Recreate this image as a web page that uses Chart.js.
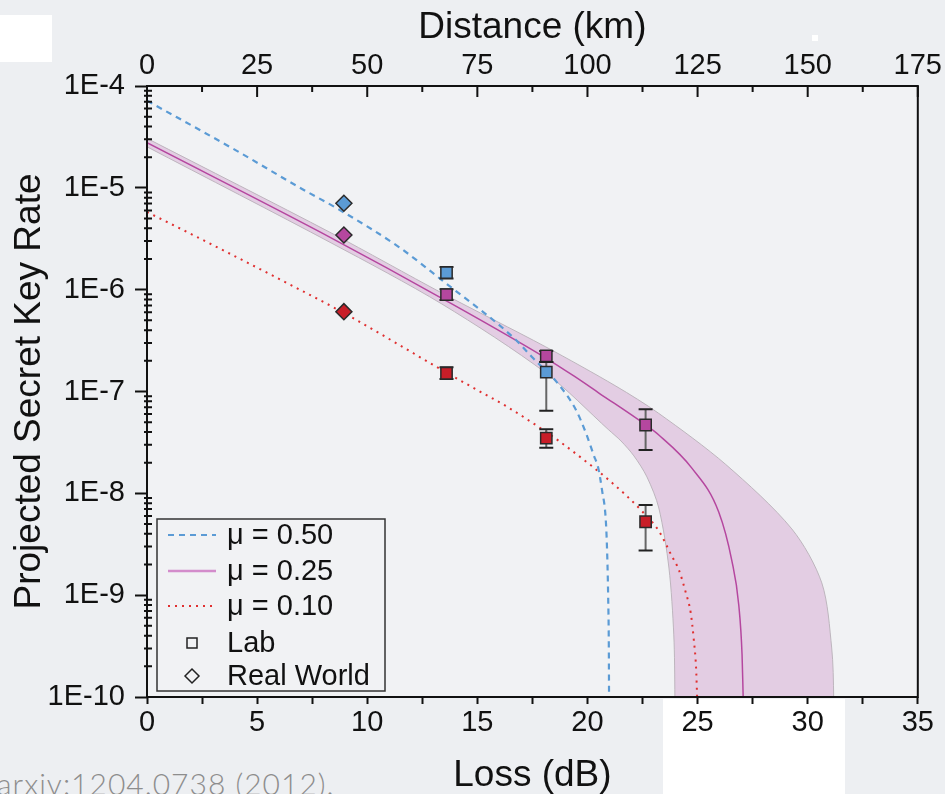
<!DOCTYPE html>
<html>
<head>
<meta charset="utf-8">
<title>Projected Secret Key Rate</title>
<script src="https://cdn.jsdelivr.net/npm/chart.js@4.4.0/dist/chart.umd.min.js"></script>
<style>
  body { margin: 0; width: 945px; height: 794px; overflow: hidden; position: relative; background: #edeff2; }
  #wrap { position: absolute; left: 0; top: 0; width: 945px; height: 794px; }
  .blanco { position: absolute; background: #fff; }
  #cita { position: absolute; left: -3px; top: 765px; font-family: Lato, "Open Sans", sans-serif; font-weight: 300; font-size: 30px; letter-spacing: 1px; color: #8d8d8d; white-space: nowrap; }
</style>
</head>
<body>
<div class="blanco" style="left:0;top:15px;width:52px;height:47px"></div>
<div class="blanco" style="left:663px;top:699px;width:182px;height:95px"></div>
<div class="blanco" style="left:812px;top:35px;width:6px;height:6px"></div>
<div id="cita">arxiv:1204.0738 (2012).</div>
<div id="wrap"><canvas id="grafica"></canvas></div>
<script>
// curvas teoricas (perdida en dB, tasa)
const lossMu050 = [0, 4, 7.04, 8.72, 11.44, 13.39, 16.66, 17.48, 18.71, 19.48, 19.93, 20.3, 20.48, 20.66, 20.84, 20.9, 20.94, 20.97, 20.98];
const rateMu050 = [7.18e-5, 2.36e-5, 9.75e-6, 6.12e-6, 2.62e-6, 1.24e-6, 3.35e-7, 2.18e-7, 1.16e-7, 6.58e-8, 3.91e-8, 2.32e-8, 1.81e-8, 1.08e-8, 5.12e-9, 2.37e-9, 9.6e-10, 3.1e-10, 1e-10];

const lossMu025 = [0, 8.4, 13.39, 18.11, 19.38, 20.52, 22.65, 23.24, 24.74, 25.96, 26.55, 26.87, 27.02, 27.07];
const rateMu025 = [2.77e-5, 3.19e-6, 8.22e-7, 2.13e-7, 1.42e-7, 9.66e-8, 4.69e-8, 3.74e-8, 1.77e-8, 6.56e-9, 2.21e-9, 8.0e-10, 2.58e-10, 1e-10];

const lossMu010 = [0, 2.27, 6.9, 8.94, 13.39, 14.84, 16.3, 17.79, 18.7, 20.2, 20.97, 21.74, 22.47, 23.24, 23.83, 24.15, 24.47, 24.69, 24.83, 24.93, 24.98];
const rateMu010 = [5.79e-6, 3.29e-6, 1.01e-6, 5.9e-7, 1.63e-7, 1.08e-7, 7.19e-8, 4.48e-8, 3.27e-8, 1.85e-8, 1.35e-8, 9.62e-9, 6.7e-9, 4.27e-9, 2.42e-9, 1.77e-9, 1.05e-9, 6.68e-10, 3.62e-10, 1.97e-10, 1e-10];

// banda de incertidumbre de mu = 0.25
const lossBandUp = [0, 8.4, 13.39, 18.11, 21.29, 23.24, 26.28, 29.28, 30.64, 31.09, 31.18, 31.19];
const rateBandUp = [3.06e-5, 3.57e-6, 9.27e-7, 2.74e-7, 1.13e-7, 6.09e-8, 1.92e-8, 4.47e-9, 1.32e-9, 3.03e-10, 1e-10, 1e-11];
const lossBandLow = [0, 8.4, 13.39, 18.11, 20.97, 21.52, 22.11, 22.7, 23.24, 23.7, 23.92, 23.97, 23.98];
const rateBandLow = [2.53e-5, 2.85e-6, 7.23e-7, 1.52e-7, 4.19e-8, 3.27e-8, 2.33e-8, 1.45e-8, 7.18e-9, 1.85e-9, 4.07e-10, 1e-10, 1e-11];

// medidas de laboratorio
const labLoss = [13.6, 18.13, 22.64];
const labBlue = [1.47e-6, 1.55e-7, null];
const labBlueHi = [1.67e-6, 1.95e-7, null];
const labBlueLo = [1.29e-6, 6.47e-8, null];
const labMagenta = [8.93e-7, 2.24e-7, 4.69e-8];
const labMagentaHi = [1.01e-6, 2.5e-7, 6.68e-8];
const labMagentaLo = [7.92e-7, 1.95e-7, 2.66e-8];
const labRed = [1.51e-7, 3.49e-8, 5.26e-9];
const labRedHi = [1.73e-7, 4.26e-8, 7.67e-9];
const labRedLo = [1.33e-7, 2.81e-8, 2.75e-9];

// medidas en campo (real world)
const rwLoss = [8.94];
const rwBlue = [7.05e-6];
const rwMagenta = [3.44e-6];
const rwRed = [6.08e-7];

const yTicks = [1e-10, 1e-9, 1e-8, 1e-7, 1e-6, 1e-5, 1e-4];
const legendLabels = ["μ = 0.50", "μ = 0.25", "μ = 0.10", "Lab", "Real World"];

const azul = "#5b9bd5";
const magenta = "#b5479f";
const rojo = "#c81e28";
const fondoPlot = "#f1f2f4";
const fuente = "'Liberation Sans', Arial, sans-serif";

const toXY = (xs, ys) => xs.map((x, i) => ({ x: x, y: ys[i] }));

const bandData = toXY(lossBandUp, rateBandUp).concat(toXY(lossBandLow, rateBandLow).reverse());

function puntos(label, xs, ys, color, estilo, lo, hi) {
  return {
    label: label,
    data: toXY(xs, ys),
    showLine: false,
    pointStyle: estilo,
    pointRadius: 8,
    pointBackgroundColor: color,
    pointBorderColor: "#2a2a2a",
    pointBorderWidth: 1.5,
    errLo: lo,
    errHi: hi,
    order: 0,
  };
}

const fondo = {
  id: "fondo",
  beforeDraw(chart) {
    const { ctx, chartArea: a } = chart;
    ctx.save();
    ctx.fillStyle = fondoPlot;
    ctx.fillRect(a.left, a.top, a.right - a.left, a.bottom - a.top);
    ctx.restore();
  },
};

const barrasError = {
  id: "barrasError",
  beforeDatasetDraw(chart, args) {
    const ds = chart.data.datasets[args.index];
    if (!ds.errLo) return;
    const { ctx } = chart;
    const sx = chart.scales.x, sy = chart.scales.y;
    ctx.save();
    ds.data.forEach((p, i) => {
      if (p.y == null) return;
      const px = sx.getPixelForValue(p.x);
      const top = sy.getPixelForValue(ds.errHi[i]);
      const bot = sy.getPixelForValue(ds.errLo[i]);
      ctx.strokeStyle = "#666";
      ctx.lineWidth = 2;
      ctx.beginPath();
      ctx.moveTo(px, top);
      ctx.lineTo(px, bot);
      ctx.stroke();
      ctx.strokeStyle = "#222";
      ctx.beginPath();
      ctx.moveTo(px - 7, top);
      ctx.lineTo(px + 7, top);
      ctx.moveTo(px - 7, bot);
      ctx.lineTo(px + 7, bot);
      ctx.stroke();
    });
    ctx.restore();
  },
};

const marco = {
  id: "marco",
  afterDraw(chart) {
    const { ctx, chartArea: a } = chart;
    const sy = chart.scales.y, sx2 = chart.scales.x2;
    ctx.save();
    ctx.strokeStyle = "#111";
    ctx.lineWidth = 2;
    ctx.strokeRect(a.left, a.top, a.right - a.left, a.bottom - a.top);
    ctx.beginPath();
    // ticks menores del eje y hacia dentro
    for (let k = 0; k < yTicks.length - 1; k++) {
      for (let m = 2; m <= 9; m++) {
        const py = sy.getPixelForValue(yTicks[k] * m);
        ctx.moveTo(a.left - 3, py);
        ctx.lineTo(a.left + 5, py);
      }
    }
    // ticks del eje superior hacia dentro
    sx2.ticks.forEach((t) => {
      const px = sx2.getPixelForValue(t.value);
      ctx.moveTo(px, a.top);
      ctx.lineTo(px, a.top + (t.value % 25 === 0 ? 11 : 6));
    });
    ctx.stroke();
    ctx.restore();
  },
};

const leyenda = {
  id: "leyenda",
  afterDraw(chart) {
    const { ctx, chartArea: a } = chart;
    const x0 = a.left + 10, y0 = a.bottom - 178, w = 228, h = 172;
    const filas = [16, 52, 87, 124, 157];
    ctx.save();
    ctx.fillStyle = fondoPlot;
    ctx.fillRect(x0, y0, w, h);
    ctx.strokeStyle = "#333";
    ctx.lineWidth = 1.5;
    ctx.strokeRect(x0, y0, w, h);

    const lineas = [
      { color: azul, dash: [6, 5], width: 2 },
      { color: "#d38ccb", dash: [], width: 2.5 },
      { color: "#e03030", dash: [2, 5], width: 2 },
    ];
    lineas.forEach((l, i) => {
      ctx.beginPath();
      ctx.setLineDash(l.dash);
      ctx.strokeStyle = l.color;
      ctx.lineWidth = l.width;
      ctx.moveTo(x0 + 11, y0 + filas[i]);
      ctx.lineTo(x0 + 59, y0 + filas[i]);
      ctx.stroke();
    });
    ctx.setLineDash([]);
    ctx.strokeStyle = "#222";
    ctx.lineWidth = 1.5;
    const cx = x0 + 35;
    ctx.strokeRect(cx - 5, y0 + filas[3] - 5, 10, 10);
    ctx.beginPath();
    const yd = y0 + filas[4];
    ctx.moveTo(cx - 7, yd);
    ctx.lineTo(cx, yd - 7);
    ctx.lineTo(cx + 7, yd);
    ctx.lineTo(cx, yd + 7);
    ctx.closePath();
    ctx.stroke();

    ctx.fillStyle = "#111";
    ctx.font = "29px " + fuente;
    ctx.textBaseline = "middle";
    legendLabels.forEach((t, i) => ctx.fillText(t, x0 + 70, y0 + filas[i] + 1));
    ctx.restore();
  },
};

const tickFont = { family: fuente, size: 29 };
const titleFont = { family: fuente, size: 37 };

new Chart(document.getElementById("grafica"), {
  type: "scatter",
  data: {
    datasets: [
      puntos("Lab 0.50", labLoss, labBlue, azul, "rect", labBlueLo, labBlueHi),
      puntos("Lab 0.25", labLoss, labMagenta, magenta, "rect", labMagentaLo, labMagentaHi),
      puntos("Lab 0.10", labLoss, labRed, rojo, "rect", labRedLo, labRedHi),
      puntos("Real 0.50", rwLoss, rwBlue, azul, "rectRot"),
      puntos("Real 0.25", rwLoss, rwMagenta, magenta, "rectRot"),
      puntos("Real 0.10", rwLoss, rwRed, rojo, "rectRot"),
      {
        label: "μ = 0.50",
        data: toXY(lossMu050, rateMu050),
        showLine: true,
        borderColor: azul,
        borderWidth: 2.2,
        borderDash: [6, 5],
        pointRadius: 0,
        cubicInterpolationMode: "monotone",
        order: 1,
      },
      {
        label: "μ = 0.25",
        data: toXY(lossMu025, rateMu025),
        showLine: true,
        borderColor: magenta,
        borderWidth: 1.5,
        pointRadius: 0,
        cubicInterpolationMode: "monotone",
        order: 1,
      },
      {
        label: "μ = 0.10",
        data: toXY(lossMu010, rateMu010),
        showLine: true,
        borderColor: "#e03030",
        borderWidth: 2,
        borderDash: [2, 5],
        pointRadius: 0,
        cubicInterpolationMode: "monotone",
        order: 1,
      },
      {
        label: "banda",
        data: bandData,
        showLine: true,
        fill: "shape",
        backgroundColor: "rgba(205,145,200,0.38)",
        borderColor: "#bdb5bd",
        borderWidth: 1,
        pointRadius: 0,
        tension: 0.3,
        order: 2,
      },
    ],
  },
  options: {
    responsive: true,
    maintainAspectRatio: false,
    animation: false,
    layout: { padding: { left: 0, right: 26, top: 0, bottom: 0 } },
    plugins: {
      legend: { display: false },
      tooltip: { enabled: false },
    },
    scales: {
      x: {
        type: "linear",
        position: "bottom",
        min: 0,
        max: 35,
        afterFit: (s) => { s.height = 97; },
        border: { display: false },
        grid: { drawOnChartArea: false, tickLength: 7, tickWidth: 2, tickColor: "#111" },
        ticks: {
          stepSize: 2.5,
          autoSkip: false,
          maxRotation: 0,
          padding: 2,
          color: "#111",
          font: tickFont,
          callback: (v) => (v % 5 === 0 ? v : ""),
        },
        title: { display: true, text: "Loss (dB)", color: "#111", font: titleFont, padding: { top: 0, bottom: -4 } },
      },
      x2: {
        type: "linear",
        position: "top",
        min: 0,
        max: 175,
        afterFit: (s) => { s.height = 86; },
        border: { display: false },
        grid: { drawOnChartArea: false, drawTicks: false },
        ticks: {
          stepSize: 12.5,
          autoSkip: false,
          maxRotation: 0,
          padding: 3,
          color: "#111",
          font: tickFont,
          callback: (v) => (v % 25 === 0 ? v : ""),
        },
        title: { display: true, text: "Distance (km)", color: "#111", font: titleFont, padding: { top: 6, bottom: 0 } },
      },
      y: {
        type: "logarithmic",
        min: 1e-10,
        max: 1e-4,
        afterFit: (s) => { s.width = 147; },
        afterBuildTicks: (s) => { s.ticks = yTicks.map((v) => ({ value: v })); },
        border: { display: false },
        grid: { drawOnChartArea: false, tickLength: 12, tickWidth: 2, tickColor: "#111" },
        ticks: {
          padding: 10,
          color: "#111",
          font: tickFont,
          callback: (v) => "1E" + Math.round(Math.log10(v)),
        },
        title: { display: true, text: "Projected Secret Key Rate", color: "#111", font: titleFont, padding: { top: 8, bottom: 0 } },
      },
    },
  },
  plugins: [fondo, barrasError, marco, leyenda],
});
</script>
</body>
</html>
